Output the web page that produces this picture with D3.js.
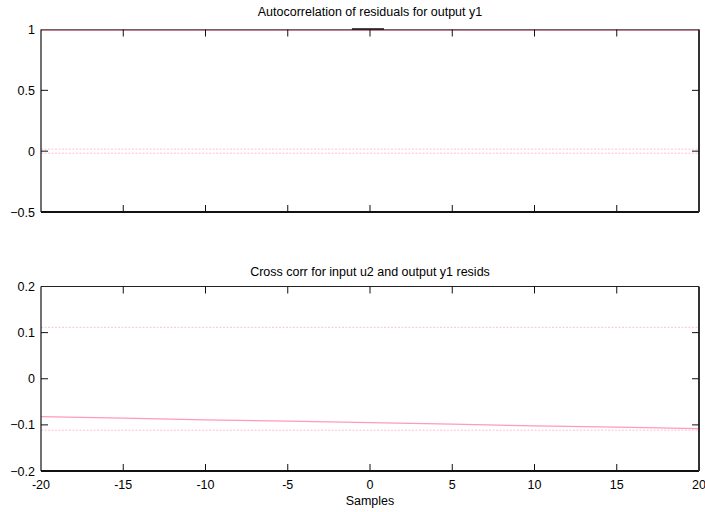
<!DOCTYPE html>
<html><head><meta charset="utf-8">
<script src="https://cdn.jsdelivr.net/npm/d3@7"></script>
<style>body{margin:0;background:#fff}svg{display:block}text{font-family:Arial,"Liberation Sans",sans-serif;font-size:12.5px;fill:#000}</style>
</head><body><svg id="c" width="705" height="512"></svg>
<script>
// ---- data ----
const xTicks = [-20,-15,-10,-5,0,5,10,15,20];
const topYTicks = [-0.5,0,0.5,1];
const botYTicks = [-0.2,-0.1,0,0.1,0.2];
const topTitle = "Autocorrelation of residuals for output y1";
const botTitle = "Cross corr for input u2 and output y1 resids";
const xLabel = "Samples";
// autocorrelation (normalized) – reads as 1 across all lags
const acfLags = [-20,-10,0,10,20];
const acfVals = [1,1,1,1,1];
// lag-0 segment drawn in black
const acfZeroLags = [-1.1,0.85];
const acfZeroVals = [1,1];
const acfConf = 0.017;
// cross correlation
const ccLags = [-20,-15,-10,-5,0,5,10,15,20];
const ccVals = [-0.082,-0.0855,-0.089,-0.092,-0.095,-0.0985,-0.102,-0.105,-0.108];
const ccConf = 0.1115;

const svg = d3.select("#c");
const L = 41, R = 699;
const x = d3.scaleLinear().domain([-20,20]).range([L,R]);
const panels = [
  {y: d3.scaleLinear().domain([-0.5,1]).range([212,29.5]), ticks: topYTicks, title: topTitle, titleY: 16, xlabels:false},
  {y: d3.scaleLinear().domain([-0.2,0.2]).range([471,286.5]), ticks: botYTicks, title: botTitle, titleY: 276, xlabels:true}
];
const pink = "#ff9ab8", pinkLight = "#ffc0d2";

panels.forEach((p,i)=>{
  const g = svg.append("g");
  const y = p.y;
  const top = y.range()[1], bot = y.range()[0];
  g.append("text").attr("x", (L+R)/2).attr("y", p.titleY).attr("text-anchor","middle").text(p.title);
  const conf = i===0 ? acfConf : ccConf;
  [conf,-conf].forEach(c=>{
    g.append("line").attr("x1",x(-20)).attr("x2",x(20)).attr("y1",y(c)).attr("y2",y(c))
      .attr("stroke",pinkLight).attr("stroke-width",1).attr("stroke-dasharray","2,1.5");
  });
  const line = d3.line().x(d=>x(d[0])).y(d=>y(d[1]));
  g.append("line").attr("x1",L).attr("x2",R).attr("y1",top).attr("y2",top).attr("stroke",i===0?"#666":"#222").attr("stroke-width",1);
  if(i===0){
    g.append("path").datum(acfLags.map((l,k)=>[l,acfVals[k]])).attr("d",line)
      .attr("fill","none").attr("stroke","#c77a92").attr("stroke-width",1).attr("transform","translate(0,1)");
  } else {
    g.append("path").datum(ccLags.map((l,k)=>[l,ccVals[k]])).attr("d",line)
      .attr("fill","none").attr("stroke",pink).attr("stroke-width",1.2);
  }
  g.append("line").attr("x1",L).attr("x2",R).attr("y1",bot).attr("y2",bot).attr("stroke","#111").attr("stroke-width",2);
  g.append("line").attr("x1",L).attr("x2",L).attr("y1",top).attr("y2",bot).attr("stroke","#111").attr("stroke-width",1.2);
  g.append("line").attr("x1",R).attr("x2",R).attr("y1",top).attr("y2",bot).attr("stroke","#333").attr("stroke-width",2);
  if(i===0){
    g.append("path").datum(acfZeroLags.map((l,k)=>[l,acfZeroVals[k]])).attr("d",line)
      .attr("fill","none").attr("stroke","#111").attr("stroke-width",1.5).attr("transform","translate(0,-0.5)");
  }
  xTicks.slice(1,-1).forEach(t=>{
    g.append("line").attr("x1",x(t)).attr("x2",x(t)).attr("y1",bot).attr("y2",bot-7).attr("stroke","#111");
    g.append("line").attr("x1",x(t)).attr("x2",x(t)).attr("y1",top).attr("y2",top+7).attr("stroke","#111");
  });
  p.ticks.forEach(t=>{
    if(t!==p.ticks[0] && t!==p.ticks[p.ticks.length-1]){
      g.append("line").attr("x1",L).attr("x2",L+7).attr("y1",y(t)).attr("y2",y(t)).attr("stroke","#111");
      g.append("line").attr("x1",R).attr("x2",R-7).attr("y1",y(t)).attr("y2",y(t)).attr("stroke","#111");
    }
    g.append("text").attr("x",L-6).attr("y",y(t)+4.5).attr("text-anchor","end").text(d3.format("")(t));
  });
  if(p.xlabels){
    xTicks.forEach(t=>{
      g.append("text").attr("x",x(t)).attr("y",489).attr("text-anchor","middle").text(t);
    });
    g.append("text").attr("x",x(0)).attr("y",505).attr("text-anchor","middle").text(xLabel);
  }
});
</script></body></html>
